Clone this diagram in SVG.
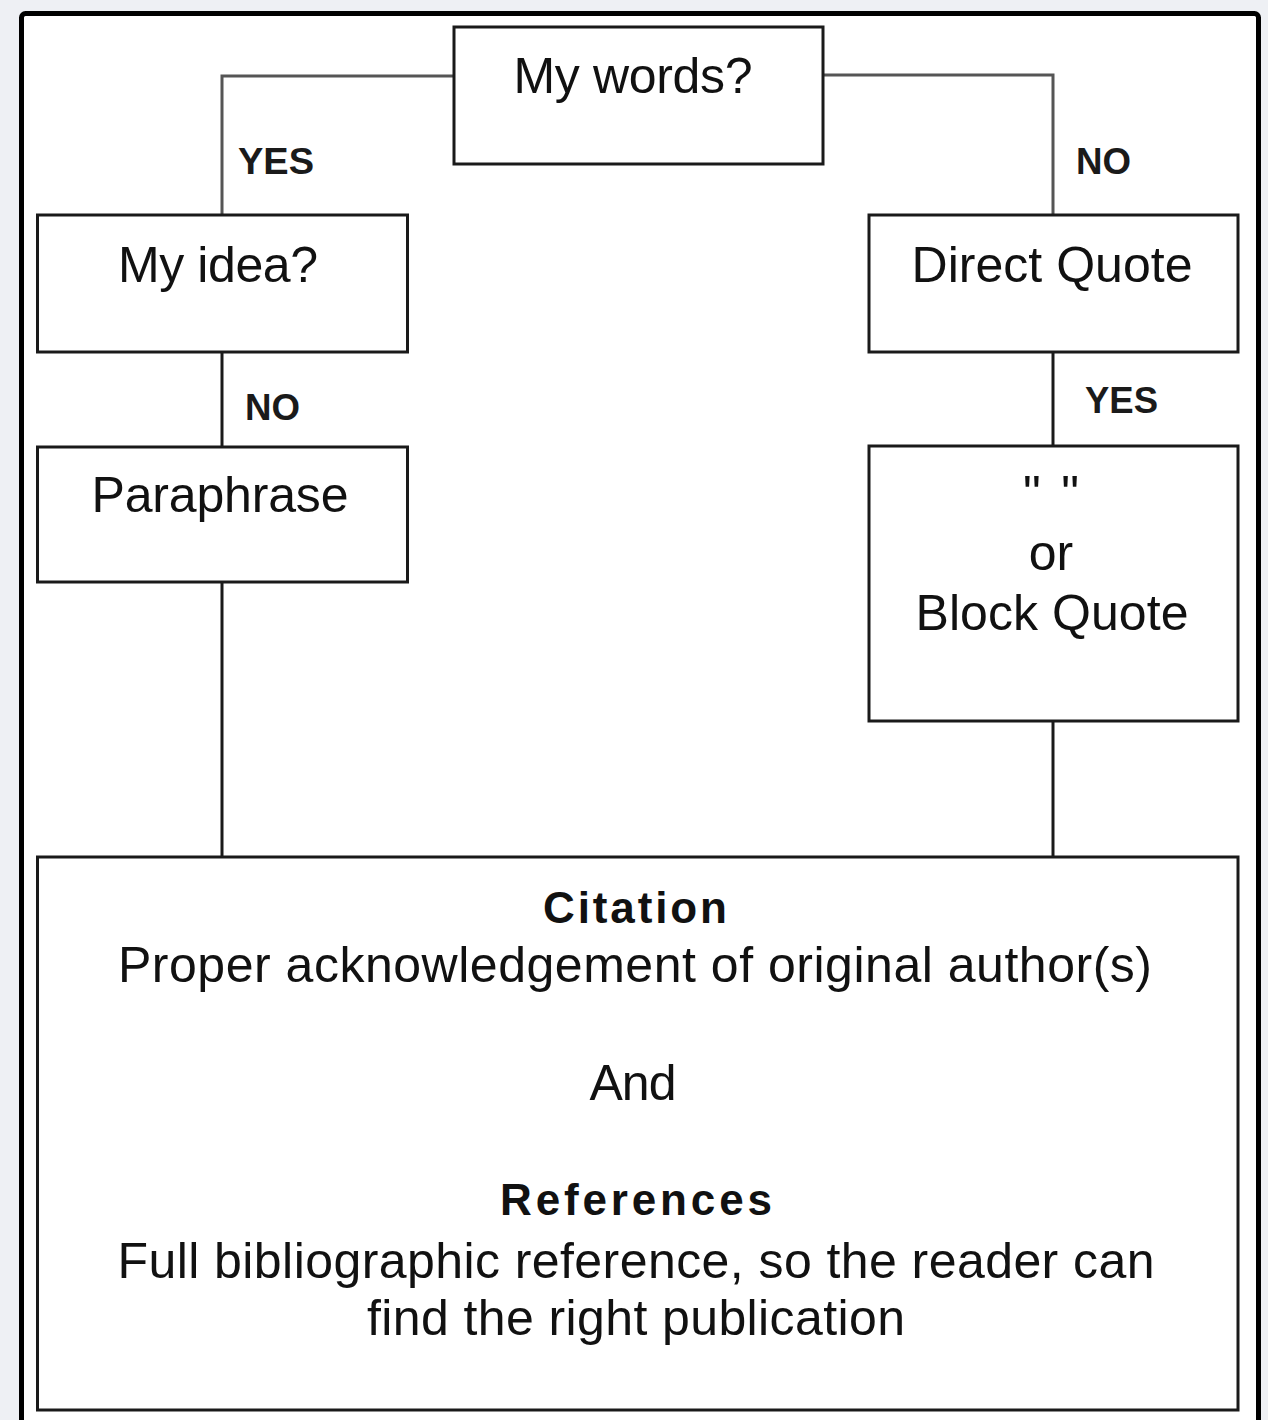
<svg xmlns="http://www.w3.org/2000/svg" width="1268" height="1420" viewBox="0 0 1268 1420">
  <style>
    .box { fill: #ffffff; stroke: #1a1a1a; stroke-width: 3; }
    .t { font-family: "Liberation Sans", Arial, sans-serif; font-size: 50px; fill: #111111; text-anchor: middle; }
    .b { font-family: "Liberation Sans", Arial, sans-serif; font-size: 44px; font-weight: bold; fill: #111111; text-anchor: middle; }
    .lbl { font-family: "Liberation Sans", Arial, sans-serif; font-size: 37px; font-weight: bold; fill: #1a1a1a; }
    .c1 { fill: none; stroke: #555555; stroke-width: 3; }
    .c2 { fill: none; stroke: #1a1a1a; stroke-width: 3; }
  </style>
  <rect x="0" y="0" width="1268" height="1420" fill="#eef0f4"/>
  <rect x="21.5" y="13.5" width="1237" height="1440" rx="4" fill="#ffffff" stroke="#000000" stroke-width="5"/>

  <g id="connectors">
    <polyline class="c1" points="453,76 222,76 222,215"/>
    <polyline class="c1" points="823,75 1053,75 1053,215"/>
    <line class="c2" x1="222" y1="352" x2="222" y2="447"/>
    <line class="c2" x1="1053" y1="352" x2="1053" y2="446"/>
    <line class="c2" x1="222" y1="582" x2="222" y2="857"/>
    <line class="c2" x1="1053" y1="721" x2="1053" y2="857"/>
    <text class="lbl" x="238" y="174" textLength="76" lengthAdjust="spacingAndGlyphs">YES</text>
    <text class="lbl" x="1076" y="174" textLength="55" lengthAdjust="spacingAndGlyphs">NO</text>
    <text class="lbl" x="245" y="420" textLength="55" lengthAdjust="spacingAndGlyphs">NO</text>
    <text class="lbl" x="1085" y="413" textLength="73" lengthAdjust="spacingAndGlyphs">YES</text>
  </g>

  <g id="node-mywords">
    <rect class="box" x="454" y="27" width="369" height="137"/>
    <text class="t" x="633" y="93" textLength="239">My words?</text>
  </g>

  <g id="node-myidea">
    <rect class="box" x="37.5" y="215" width="370" height="137"/>
    <text class="t" x="218" y="282" textLength="200">My idea?</text>
  </g>

  <g id="node-directquote">
    <rect class="box" x="869" y="215" width="369" height="137"/>
    <text class="t" x="1052" y="282" textLength="281">Direct Quote</text>
  </g>

  <g id="node-paraphrase">
    <rect class="box" x="37.5" y="447" width="370" height="135"/>
    <text class="t" x="220" y="512" textLength="257">Paraphrase</text>
  </g>

  <g id="node-quote">
    <rect class="box" x="869" y="446" width="369" height="275"/>
    <text class="t" x="1051" y="511" textLength="56">" "</text>
    <text class="t" x="1051" y="570">or</text>
    <text class="t" x="1052" y="630" textLength="273">Block Quote</text>
  </g>

  <g id="node-citation">
    <rect class="box" x="37.5" y="857" width="1200.5" height="553"/>
    <text class="b" x="635" y="923" textLength="184">Citation</text>
    <text class="t" x="635" y="982" textLength="1034">Proper acknowledgement of original author(s)</text>
    <text class="t" x="633" y="1100" textLength="87">And</text>
    <text class="b" x="636" y="1215" textLength="272">References</text>
    <text class="t" x="636" y="1278" textLength="1037">Full bibliographic reference, so the reader can</text>
    <text class="t" x="636" y="1335" textLength="538">find the right publication</text>
  </g>
</svg>
